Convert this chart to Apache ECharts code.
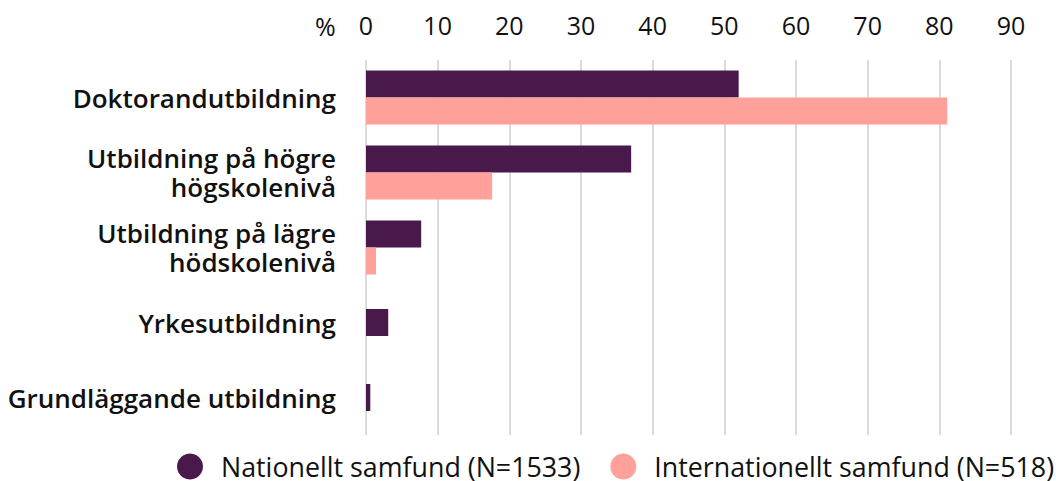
<!DOCTYPE html>
<html>
<head>
<meta charset="utf-8">
<script src="https://cdn.jsdelivr.net/npm/echarts@6/dist/echarts.min.js"></script>
<style>
  html, body { margin: 0; padding: 0; background: #fff; }
  #chart { width: 1056px; height: 481px; }
</style>
</head>
<body>
<div id="chart"></div>
<script>
var categories = [
  'Doktorandutbildning',
  'Utbildning på högre\nhögskolenivå',
  'Utbildning på lägre\nhödskolenivå',
  'Yrkesutbildning',
  'Grundläggande utbildning'
];
var seriesNames = ['Nationellt samfund (N=1533)', 'Internationellt samfund (N=518)'];
// first three rows have both groups, last two only the national group
var national = [52.0, 37.0, 7.7, null, null];
var nationalOnly = [null, null, null, 3.1, 0.6];
var international = [81.1, 17.6, 1.4, null, null];
var xTicks = { min: 0, max: 90, step: 10 };

(function() {
  var purple = '#4a194c';
  var pink = '#ffa09a';
  var ink = '#111111';
  var rule = '#dcdcdc';
  var font = '"Open Sans", "Noto Sans", sans-serif';

  var chart = echarts.init(document.getElementById('chart'), null, { renderer: 'svg' });
  var yAxisBase = {
    type: 'category',
    data: categories,
    inverse: true,
    axisLine: { show: false },
    axisTick: { show: false }
  };
  chart.setOption({
    animation: false,
    textStyle: { fontFamily: font },
    title: {
      text: '%',
      left: 310,
      top: 8,
      textStyle: { fontFamily: font, fontSize: 25, fontWeight: 'normal', color: ink }
    },
    legend: {
      data: seriesNames,
      bottom: 1,
      left: 177,
      width: 879,
      padding: 0,
      icon: 'circle',
      itemWidth: 26,
      itemHeight: 26,
      itemGap: 30,
      textStyle: { fontFamily: font, fontSize: 26.8, color: ink, padding: [0, 0, 0, 13] }
    },
    grid: { left: 366, right: 45, top: 60, bottom: 46 },
    xAxis: {
      type: 'value',
      position: 'top',
      min: xTicks.min,
      max: xTicks.max,
      interval: xTicks.step,
      axisLine: { show: false },
      axisTick: { show: false },
      axisLabel: { color: ink, fontSize: 25, margin: 23, fontFamily: font },
      splitLine: { lineStyle: { color: rule, width: 2 } }
    },
    yAxis: [
      Object.assign({}, yAxisBase, {
        axisLabel: {
          color: ink, fontSize: 26, fontWeight: 600, margin: 30,
          lineHeight: 29, fontFamily: font
        }
      }),
      Object.assign({}, yAxisBase, { show: false })
    ],
    series: [
      {
        name: seriesNames[0],
        type: 'bar',
        yAxisIndex: 0,
        barWidth: 27,
        barGap: '0%',
        itemStyle: { color: purple },
        data: national
      },
      {
        name: seriesNames[1],
        type: 'bar',
        yAxisIndex: 0,
        barWidth: 27,
        barGap: '0%',
        itemStyle: { color: pink },
        data: international
      },
      {
        name: seriesNames[0],
        type: 'bar',
        yAxisIndex: 1,
        barWidth: 27,
        itemStyle: { color: purple },
        data: nationalOnly
      }
    ]
  });
  window.addEventListener('resize', function() { chart.resize(); });
})();
</script>
</body>
</html>
